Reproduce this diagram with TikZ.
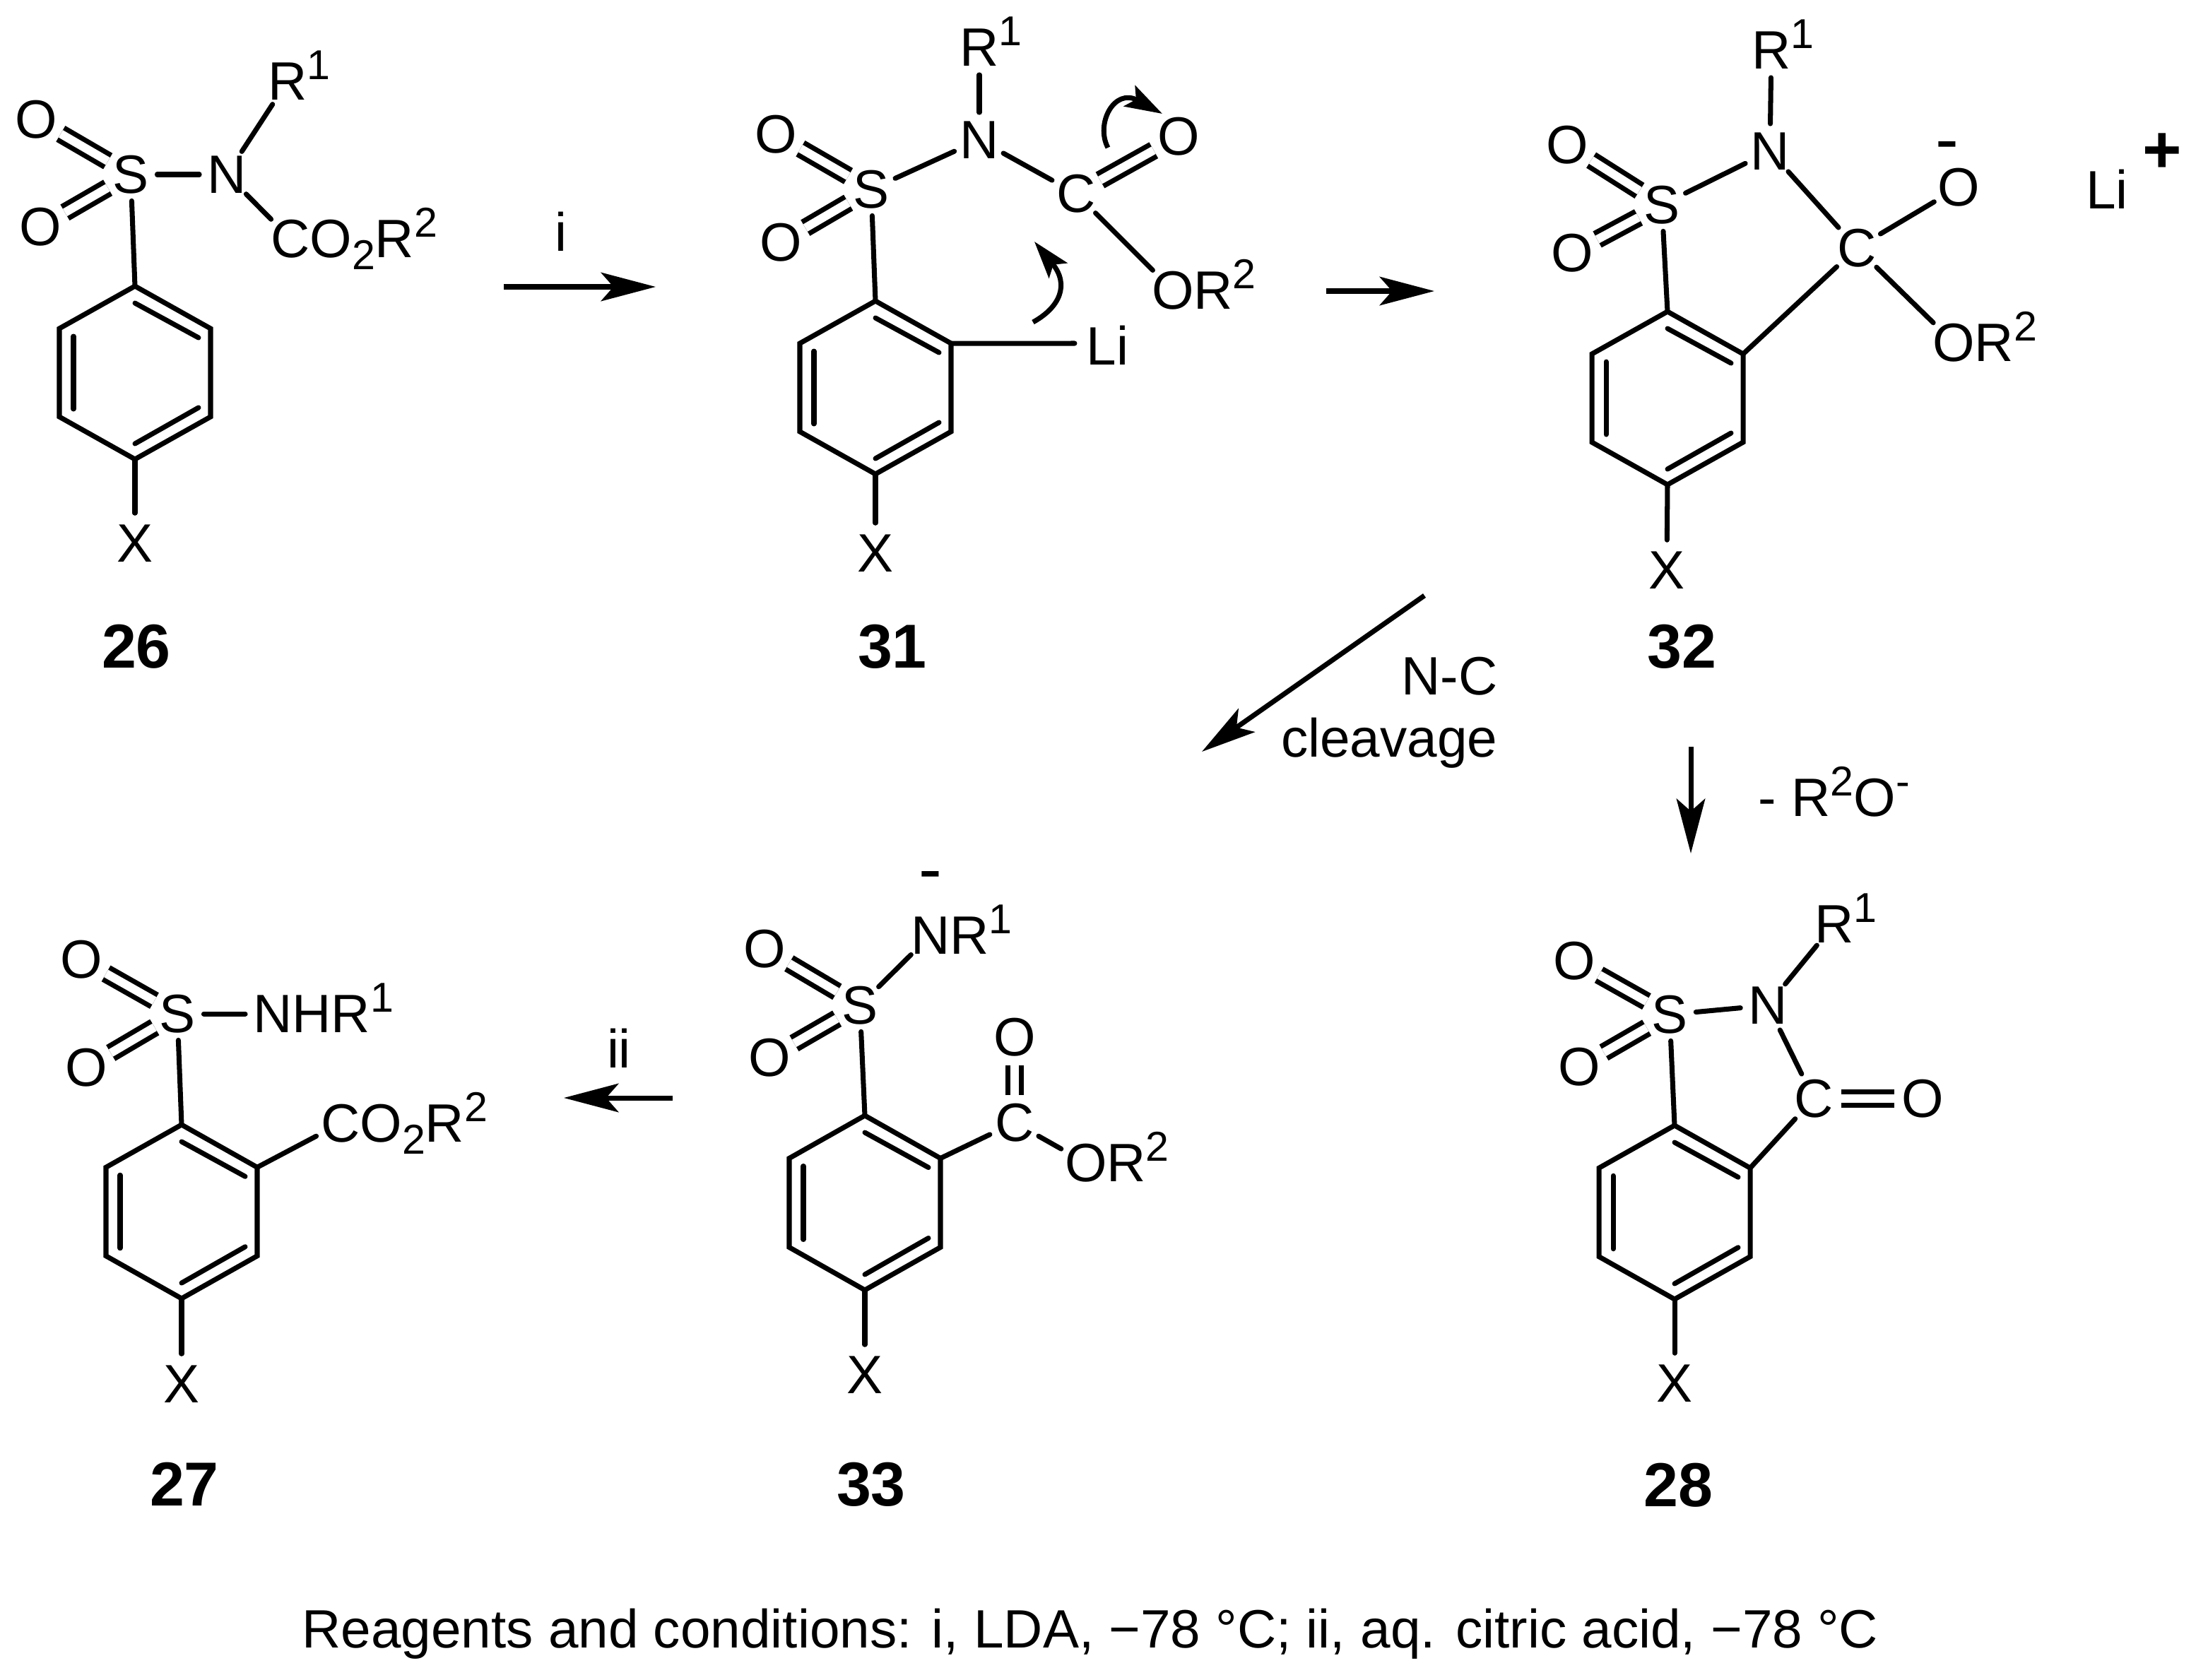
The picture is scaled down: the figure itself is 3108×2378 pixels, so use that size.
\documentclass[tikz,border=0pt]{standalone}
\usepackage{fontspec}
\setmainfont{Liberation Sans}
\usetikzlibrary{arrows.meta}

\newcommand{\tailtxt}[1]{\smash{\rlap{#1}}}
\newcommand{\sups}[1]{\raisebox{8.2pt}{\fontsize{16.8}{16.8}\selectfont #1}}
\newcommand{\subs}[1]{\raisebox{-4.9pt}{\fontsize{16.8}{16.8}\selectfont #1}}

\newcommand{\benzring}[4]{
    \coordinate (#1t) at (#2,#3-#4);
    \coordinate (#1ur) at (#2+107,#3-#4*.51);
    \coordinate (#1lr) at (#2+107,#3+#4*.51);
    \coordinate (#1b) at (#2,#3+#4);
    \coordinate (#1ll) at (#2-107,#3+#4*.51);
    \coordinate (#1ul) at (#2-107,#3-#4*.51);
    \draw[bond] (#1t) -- (#1ur) -- (#1lr) -- (#1b) -- (#1ll) -- (#1ul) -- cycle;
    \draw[bond] (#2,#3-#4+24) -- (#2+90,#3-#4*.51+13);
    \draw[bond] (#2-87,#3-#4*.51+11) -- (#2-87,#3+#4*.51-11);
    \draw[bond] (#2,#3+#4-22) -- (#2+90,#3+#4*.51-13);
}

\tikzset{
    bond/.style={line width=2pt,line cap=round},
    dbl/.style={line width=2pt,double,double distance=.12cm},
    rxn/.style={line width=2pt,-{Stealth[length=22pt,width=11.5pt,inset=5pt]}},
    curly/.style={line width=2pt,-{Stealth[length=15pt,width=9.5pt,inset=3pt]}},
    atom/.style={circle,inner sep=0pt,minimum size=.68cm,text height=15pt,text depth=0pt,
        font=\fontsize{21.75}{25}\selectfont},
    xatom/.style={atom,minimum size=.84cm},
    txt/.style={inner sep=0pt,font=\fontsize{21.75}{25}\selectfont},
    chg/.style={inner sep=0pt,font=\fontsize{28}{28}\selectfont},
    plussign/.style={inner sep=0pt,font=\fontsize{27}{27}\selectfont\bfseries},
    cmpd/.style={inner sep=0pt,font=\fontsize{25}{25}\selectfont\bfseries}
}

\begin{document}
\begin{tikzpicture}[x=.01cm,y=-.01cm]
            \useasboundingbox (0,0) rectangle (3108,2378);

            \benzring{ra}{191}{527.5}{122.5}
            \node[atom] (sa) at (185,247) {S};
            \node[atom] (na) at (321,247) {N};
            \node[atom] (o1a) at (51,169) {O};
            \node[atom] (o2a) at (57,321) {O};
            \node[atom] (rra) at (407,115) {R\tailtxt{\sups{1}}};
            \node[atom] (ca) at (411,338) {C\tailtxt{O\subs{2}R\sups{2}}};
            \node[xatom] (xa) at (191,769) {X};
            \node[cmpd] (la) at (193,915) {26};
            \draw[dbl] (sa) -- (o1a);
            \draw[dbl] (sa) -- (o2a);
            \draw[bond] (sa) -- (na);
            \draw[bond] (sa) -- (rat);
            \draw[bond] (na) -- (rra);
            \draw[bond] (na) -- (ca);
            \draw[bond] (rab) -- (xa);

            \benzring{rb}{1239}{548.5}{122.5}
            \node[atom] (sb) at (1233,268) {S};
            \node[atom] (nb) at (1386,198) {N};
            \node[atom] (o1b) at (1098,190) {O};
            \node[atom] (o2b) at (1105,343) {O};
            \node[atom] (rrb) at (1386,67) {R\tailtxt{\sups{1}}};
            \node[atom] (cb) at (1523,274) {C};
            \node[atom] (o3b) at (1668,193) {O};
            \node[atom] (o4b) at (1660,411) {O\tailtxt{R\sups{2}}};
            \node[atom,text height=17.5pt] (lib) at (1559,486) {L\tailtxt{i}};
            \node[xatom] (xb) at (1239,783) {X};
            \node[cmpd] (lb) at (1263,915) {31};
            \draw[dbl] (sb) -- (o1b);
            \draw[dbl] (sb) -- (o2b);
            \draw[dbl] (cb) -- (o3b);
            \draw[bond] (sb) -- (nb);
            \draw[bond] (sb) -- (rbt);
            \draw[bond] (nb) -- (rrb);
            \draw[bond] (nb) -- (cb);
            \draw[bond] (cb) -- (o4b);
            \draw[bond] (rbur) -- (lib);
            \draw[bond] (rbb) -- (xb);
            \coordinate (mv1s) at (1462,456);
            \coordinate (mv1e) at (1464,342);
            \coordinate (mv2s) at (1568,209);
            \coordinate (mv2e) at (1645,161);
            \draw[curly] (mv1s) .. controls (1500,435) and (1514,403) .. (mv1e);
            \draw[curly] (mv2s) .. controls (1550,175) and (1577,124) .. (mv2e);

            \benzring{rc}{2360}{563.5}{122.5}
            \node[atom] (sc) at (2352,290) {S};
            \node[atom] (nc) at (2505,214) {N};
            \node[atom] (o1c) at (2218,205) {O};
            \node[atom] (o2c) at (2225,358) {O};
            \node[atom] (rrc) at (2507,71) {R\tailtxt{\sups{1}}};
            \node[atom] (cc) at (2628,351) {C};
            \node[atom] (o3c) at (2772,265) {O};
            \node[chg] (mc) at (2756,215) {-};
            \node[atom] (o4c) at (2765,485) {O\tailtxt{R\sups{2}}};
            \node[txt] (lic) at (2982,268) {Li};
            \node[plussign] (pc) at (3060,217) {+};
            \node[xatom] (xc) at (2359,807) {X};
            \node[cmpd] (lc) at (2380,915) {32};
            \draw[dbl] (sc) -- (o1c);
            \draw[dbl] (sc) -- (o2c);
            \draw[bond] (sc) -- (nc);
            \draw[bond] (sc) -- (rct);
            \draw[bond] (nc) -- (rrc);
            \draw[bond] (nc) -- (cc);
            \draw[bond] (cc) -- (o3c);
            \draw[bond] (cc) -- (o4c);
            \draw[bond] (rcur) -- (cc);
            \draw[bond] (rcb) -- (xc);

            \benzring{rd}{257}{1715}{123}
            \node[atom] (sd) at (251,1435) {S};
            \node[atom] (nd) at (386,1435) {N\tailtxt{HR\sups{1}}};
            \node[atom] (o1d) at (115,1358) {O};
            \node[atom] (o2d) at (122,1511) {O};
            \node[atom] (cd) at (482,1590) {C\tailtxt{O\subs{2}R\sups{2}}};
            \node[xatom] (xd) at (257,1959) {X};
            \node[cmpd] (ld) at (261,2101) {27};
            \draw[dbl] (sd) -- (o1d);
            \draw[dbl] (sd) -- (o2d);
            \draw[bond] (sd) -- (nd);
            \draw[bond] (sd) -- (rdt);
            \draw[bond] (rdur) -- (cd);
            \draw[bond] (rdb) -- (xd);

            \benzring{re}{1224}{1702.5}{123.5}
            \node[atom] (se) at (1217,1423) {S};
            \node[atom] (ne) at (1317,1324) {N\tailtxt{R\sups{1}}};
            \node[chg] (me) at (1317,1248) {-};
            \node[atom] (o1e) at (1082,1343) {O};
            \node[atom] (o2e) at (1089,1497) {O};
            \node[atom] (ce) at (1436,1589) {C};
            \node[atom] (o3e) at (1436,1468) {O};
            \node[atom] (o4e) at (1537,1646) {O\tailtxt{R\sups{2}}};
            \node[xatom] (xe) at (1224,1946) {X};
            \node[cmpd] (le) at (1233,2101) {33};
            \draw[dbl] (se) -- (o1e);
            \draw[dbl] (se) -- (o2e);
            \draw[dbl] (ce) -- (o3e);
            \draw[bond] (se) -- (ne);
            \draw[bond] (se) -- (ret);
            \draw[bond] (reur) -- (ce);
            \draw[bond] (ce) -- (o4e);
            \draw[bond] (reb) -- (xe);

            \benzring{rf}{2370}{1716}{123}
            \node[atom] (sf) at (2363,1436) {S};
            \node[atom] (nf) at (2502,1423) {N};
            \node[atom] (o1f) at (2228,1360) {O};
            \node[atom] (o2f) at (2235,1510) {O};
            \node[atom] (rrf) at (2596,1308) {R\tailtxt{\sups{1}}};
            \node[atom] (cf) at (2567,1555) {C};
            \node[atom] (o3f) at (2721,1555) {O};
            \node[xatom] (xf) at (2370,1958) {X};
            \node[cmpd] (lf) at (2375,2102) {28};
            \draw[dbl] (sf) -- (o1f);
            \draw[dbl] (sf) -- (o2f);
            \draw[dbl] (cf) -- (o3f);
            \draw[bond] (sf) -- (nf);
            \draw[bond] (sf) -- (rft);
            \draw[bond] (nf) -- (rrf);
            \draw[bond] (nf) -- (cf);
            \draw[bond] (rfur) -- (cf);
            \draw[bond] (rfb) -- (xf);

            \coordinate (ar1s) at (713,406);
            \coordinate (ar1e) at (928,406);
            \coordinate (ar2s) at (1877,412);
            \coordinate (ar2e) at (2030,412);
            \coordinate (ar3s) at (2016,843);
            \coordinate (ar3e) at (1701,1064);
            \coordinate (ar4s) at (2393,1057);
            \coordinate (ar4e) at (2393,1208);
            \coordinate (ar5s) at (952,1554);
            \coordinate (ar5e) at (798,1554);
            \draw[rxn] (ar1s) -- (ar1e);
            \draw[rxn] (ar2s) -- (ar2e);
            \draw[rxn] (ar3s) -- (ar3e);
            \draw[rxn] (ar4s) -- (ar4e);
            \draw[rxn] (ar5s) -- (ar5e);

            \node[txt] (stepi) at (794,328) {i};
            \node[txt] (stepii) at (876,1484) {ii};
            \node[txt,anchor=east,align=right] (cleav) at (2120,1009) {N-C\\cleavage};
            \node[txt,anchor=base west] (loss) at (2488,1155) {- R\sups{2}O\sups{-}};
            \node[txt] (cond) at (1543,2313) {Reagents and conditions: i, LDA, −78 °C; ii, aq. citric acid, −78 °C};
            \end{tikzpicture}
\end{document}
